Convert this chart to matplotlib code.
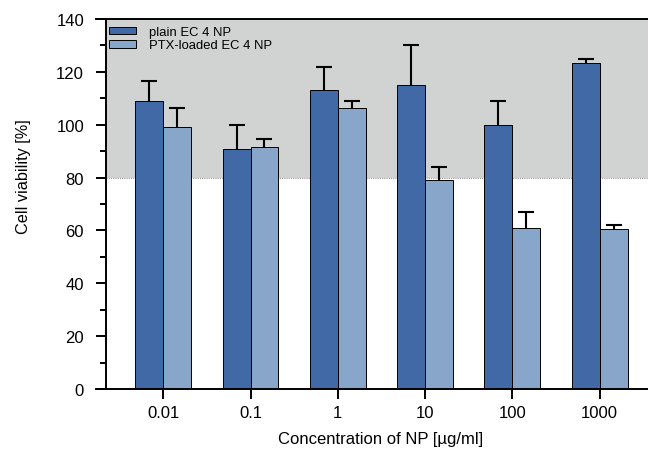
import matplotlib
matplotlib.use("Agg")
import matplotlib.pyplot as plt
import numpy as np
from matplotlib.patches import Patch

plt.rcParams["font.family"] = ["Liberation Sans", "DejaVu Sans"]

# data
CONCS = ["0.01", "0.1", "1", "10", "100", "1000"]
PLAIN = [109, 91, 113, 115, 100, 123.5]
PLAIN_ERR = [7.5, 9, 9, 15, 9, 1.5]
PTX = [99, 91.5, 106.3, 79, 61, 60.5]
PTX_ERR = [7.5, 3, 2.7, 5, 6, 1.5]

DARK = "#4169a5"
LIGHT = "#88a6c9"
GREY = "#d1d2d2"

x = np.arange(len(CONCS))
w = 0.32
x_axis = -0.66
x_right = 5.76

fig = plt.figure(figsize=(6.48, 4.52), dpi=100)
# the axes runs a little past the right edge of the figure, as in the original
ax = fig.add_axes([96 / 648, 1 - 390 / 452, 570 / 648, 370 / 452])

ax.set_xlim(-0.77, x_right)
ax.set_ylim(0, 140)

# viability threshold band
ax.fill_between([x_axis, x_right], 80, 140, color=GREY, lw=0, zorder=0)
ax.plot([x_axis, x_right], [80, 80], ls=(0, (1, 1)), color="#9a9a9a", lw=0.8, zorder=0.5)

for xs, vals, errs, col in [(x - w / 2, PLAIN, PLAIN_ERR, DARK),
                            (x + w / 2, PTX, PTX_ERR, LIGHT)]:
    ax.bar(xs, vals, w, color=col, edgecolor="black", lw=0.7, zorder=2)
    eb = ax.errorbar(xs, vals, yerr=[np.zeros(len(vals)), errs], fmt="none",
                     ecolor="black", elinewidth=1.5, capsize=5.5, capthick=1.5,
                     zorder=3)
    eb[1][0].set_visible(False)  # only the upper cap

ax.spines["left"].set_position(("data", x_axis))
ax.spines["right"].set_visible(False)
for s in ["left", "bottom", "top"]:
    ax.spines[s].set_linewidth(1.4)

ax.set_xticks(x)
ax.set_xticklabels(CONCS)
ax.set_yticks(np.arange(0, 141, 20))
ax.set_yticks(np.arange(10, 140, 20), minor=True)
ax.tick_params(axis="both", which="major", length=7, width=1.4, labelsize=12,
               direction="out", colors="black")
ax.tick_params(axis="y", which="major", pad=8.5)
ax.tick_params(axis="x", which="major", pad=4.5)
ax.tick_params(axis="y", which="minor", length=4, width=1.4)
ax.tick_params(axis="x", which="minor", length=0)

ax.set_xlabel("Concentration of NP [µg/ml]", fontsize=12, labelpad=8)
ax.set_ylabel("Cell viability [%]", fontsize=11.7)
ax.yaxis.set_label_coords(-0.114, 0.576)

handles = [Patch(facecolor=DARK, edgecolor="black", lw=0.7, label="plain EC 4 NP"),
           Patch(facecolor=LIGHT, edgecolor="black", lw=0.7, label="PTX-loaded EC 4 NP")]
ax.legend(handles=handles, loc="upper left", bbox_to_anchor=(0.01, 1.0),
          frameon=False, fontsize=9.4, handlelength=2.1, handleheight=0.5,
          labelspacing=0.1, borderaxespad=0.15, handletextpad=1.0)

fig.savefig("out.png", dpi=100)
